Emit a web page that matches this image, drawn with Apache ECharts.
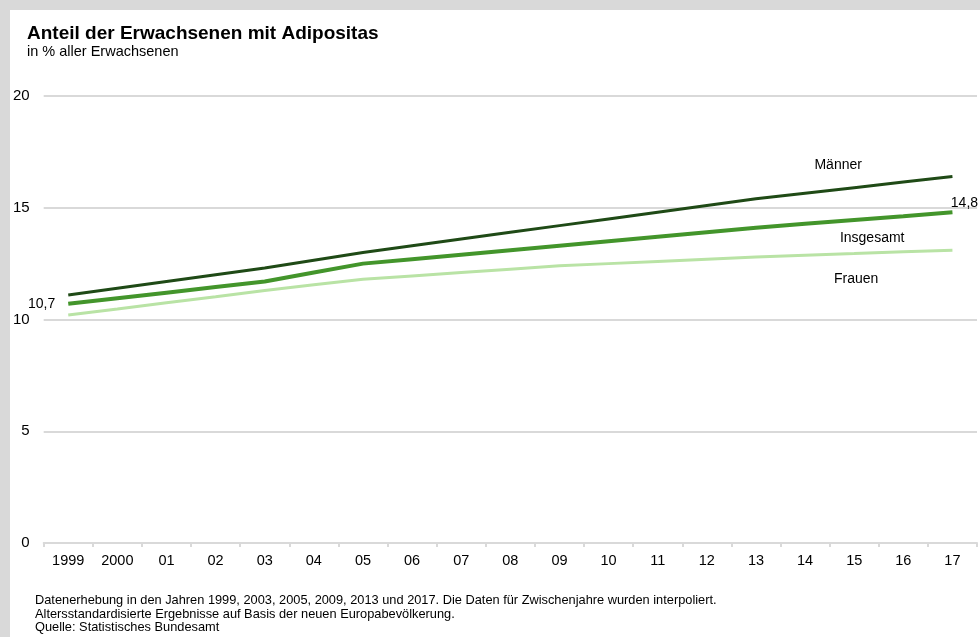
<!DOCTYPE html>
<html>
<head>
<meta charset="utf-8">
<script src="https://cdn.jsdelivr.net/npm/echarts@6/dist/echarts.min.js"></script>
<style>
    html, body { margin: 0; padding: 0; background: #d9d9d9; }
    #chart { position: absolute; left: 10px; top: 10px; width: 970px; height: 627px; background: #fff; }
</style>
</head>
<body>
<div id="chart"></div>
<script>
    // Jahre (Erhebung 1999, 2003, 2005, 2009, 2013, 2017, dazwischen interpoliert)
    var years = ['1999', '2000', '01', '02', '03', '04', '05', '06', '07', '08', '09', '10', '11', '12', '13', '14', '15', '16', '17'];
    var maenner   = [11.1, 11.4, 11.7, 12.0, 12.3, 12.65, 13.0, 13.3, 13.6, 13.9, 14.2, 14.5, 14.8, 15.1, 15.4, 15.65, 15.9, 16.15, 16.4];
    var insgesamt = [10.7, 10.95, 11.2, 11.45, 11.7, 12.1, 12.5, 12.7, 12.9, 13.1, 13.3, 13.5, 13.7, 13.9, 14.1, 14.28, 14.45, 14.62, 14.8];
    var frauen    = [10.2, 10.47, 10.75, 11.02, 11.3, 11.55, 11.8, 11.95, 12.1, 12.25, 12.4, 12.5, 12.6, 12.7, 12.8, 12.88, 12.95, 13.03, 13.1];
    var yTicks = [0, 5, 10, 15, 20];
    var notes = [
        'Datenerhebung in den Jahren 1999, 2003, 2005, 2009, 2013 und 2017. Die Daten für Zwischenjahre wurden interpoliert.',
        'Altersstandardisierte Ergebnisse auf Basis der neuen Europabevölkerung.',
        'Quelle: Statistisches Bundesamt'
    ];

    var font = 'Liberation Sans, Arial, sans-serif';

    // Beschriftung an einzelnen Punkten
    function withLabels(values, labels) {
        return values.map(function (v, i) {
            if (!labels[i]) return v;
            return { value: v, label: Object.assign({ show: true, color: '#000', fontSize: 14, fontFamily: font }, labels[i]) };
        });
    }

    var myChart = echarts.init(document.getElementById('chart'));

    var option = {
        animation: false,
        textStyle: { fontFamily: font },
        title: {
            text: 'Anteil der Erwachsenen mit Adipositas',
            subtext: 'in % aller Erwachsenen',
            left: 12,
            top: 9,
            itemGap: 1,
            textStyle: { fontSize: 19, fontWeight: 'bold', color: '#000', fontFamily: font },
            subtextStyle: { fontSize: 14.5, color: '#000', fontFamily: font }
        },
        grid: { left: 33, right: 3, top: 86, bottom: 94 },
        xAxis: {
            type: 'category',
            data: years,
            boundaryGap: true,
            axisLine: { lineStyle: { color: '#d9d9d9', width: 2 } },
            axisTick: { show: true, length: 4, lineStyle: { color: '#d9d9d9', width: 2 } },
            axisLabel: { color: '#000', fontSize: 14.5, margin: 10 }
        },
        yAxis: {
            type: 'value',
            min: yTicks[0],
            max: yTicks[yTicks.length - 1],
            interval: 5,
            axisLine: { show: false },
            axisTick: { show: false },
            axisLabel: { color: '#000', fontSize: 15, margin: 14 },
            splitLine: { lineStyle: { color: '#d9d9d9', width: 2 } }
        },
        series: [
            {
                name: 'Männer',
                type: 'line',
                symbol: 'circle',
                symbolSize: 0,
                lineStyle: { color: '#1f4a16', width: 3 },
                itemStyle: { color: '#1f4a16' },
                data: withLabels(maenner, { 16: { position: 'top', offset: [-16, -10], formatter: 'Männer' } })
            },
            {
                name: 'Insgesamt',
                type: 'line',
                symbol: 'circle',
                symbolSize: 0,
                lineStyle: { color: '#43952b', width: 4 },
                itemStyle: { color: '#43952b' },
                data: withLabels(insgesamt, {
                    0: { position: 'left', distance: 12, offset: [-1, 0], formatter: '10,7' },
                    16: { position: 'bottom', offset: [18, 6], formatter: 'Insgesamt' },
                    18: { position: 'top', distance: 2, offset: [12, 0], formatter: '14,8' }
                })
            },
            {
                name: 'Frauen',
                type: 'line',
                symbol: 'circle',
                symbolSize: 0,
                lineStyle: { color: '#b9e3a5', width: 3 },
                itemStyle: { color: '#b9e3a5' },
                data: withLabels(frauen, { 16: { position: 'bottom', offset: [2, 14], formatter: 'Frauen' } })
            }
        ],
        graphic: notes.map(function (t, i) {
            return {
                type: 'text',
                left: 25,
                top: 584 + i * 13.5,
                style: { text: t, fontSize: 12.8, fill: '#000', fontFamily: font }
            };
        })
    };
    myChart.setOption(option);
</script>
</body>
</html>
